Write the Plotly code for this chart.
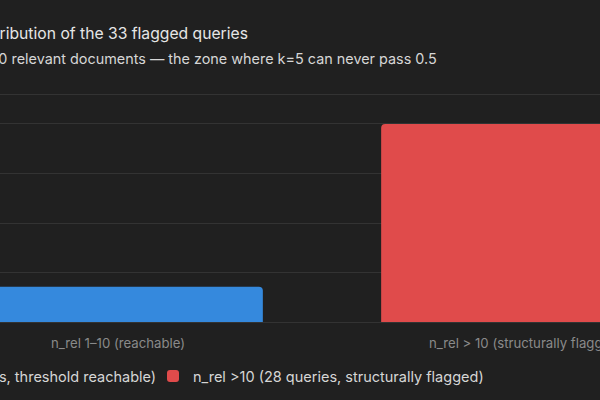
import plotly.graph_objects as go

categories = ["n_rel 1–10 (reachable)", "n_rel > 10 (structurally flagged)"]
counts = [5, 28]
series_names = [
    "n_rel 1–10 (5 queries, threshold reachable)",
    "n_rel >10 (28 queries, structurally flagged)",
]
colors = ["#3589dd", "#e04b4b"]
y_ticks = [7, 14, 21, 28]

W, H = 600, 400
PT, PB = 95, 322  # plot area top / bottom in pixels
PH = PB - PT

fig = go.Figure()
for i, (cat, val, name, col) in enumerate(zip(categories, counts, series_names, colors)):
    fig.add_trace(go.Bar(
        x=[cat], y=[val], name=name, width=0.71,
        legend="legend" if i == 0 else "legend2",
        marker=dict(color=col, cornerradius=4, line=dict(width=0)),
    ))

leg_common = dict(orientation="h", yanchor="middle", y=-(376 - PB) / PH,
                  font=dict(size=14.5, color="#d6d6d6"), bgcolor="rgba(0,0,0,0)")

fig.update_layout(
    width=W, height=H,
    paper_bgcolor="#202020", plot_bgcolor="#202020",
    font=dict(family="Inter, Roboto, sans-serif", color="#d8d8d8"),
    margin=dict(l=0, r=0, t=PT, b=H - PB, autoexpand=False),
    barmode="overlay",
    showlegend=True,
    legend=dict(x=-172 / W, xanchor="left", **leg_common),
    legend2=dict(x=153 / W, xanchor="left", **leg_common),
    xaxis=dict(range=[-118 / 408, (600 - 118) / 408], showgrid=False, showline=True, mirror=True,
               linecolor="#333333", linewidth=1, ticks="", ticklabelstandoff=9,
               tickfont=dict(size=13.2, color="#8a8a8a"), zeroline=False),
    yaxis=dict(range=[0, 32.1], tickvals=y_ticks, showticklabels=False, gridcolor="#333333",
               gridwidth=1, zeroline=False, showline=False),
    annotations=[
        dict(text="Distribution of the 33 flagged queries", xref="paper", yref="paper",
             x=250 / W, xanchor="right", y=(PB - 34) / PH,
             yanchor="middle", showarrow=False, font=dict(size=15.7, color="#e6e6e6")),
        dict(text=">10 relevant documents — the zone where k=5 can never pass 0.5", xref="paper", yref="paper",
             x=439 / W, xanchor="right", y=(PB - 58) / PH,
             yanchor="middle", showarrow=False, font=dict(size=14.4, color="#d6d6d6")),
    ],
)

fig.write_html("out.html", config={"displayModeBar": False},
               post_script="document.body.style.margin='0';document.body.style.overflow='hidden';document.body.style.background='#202020';")
